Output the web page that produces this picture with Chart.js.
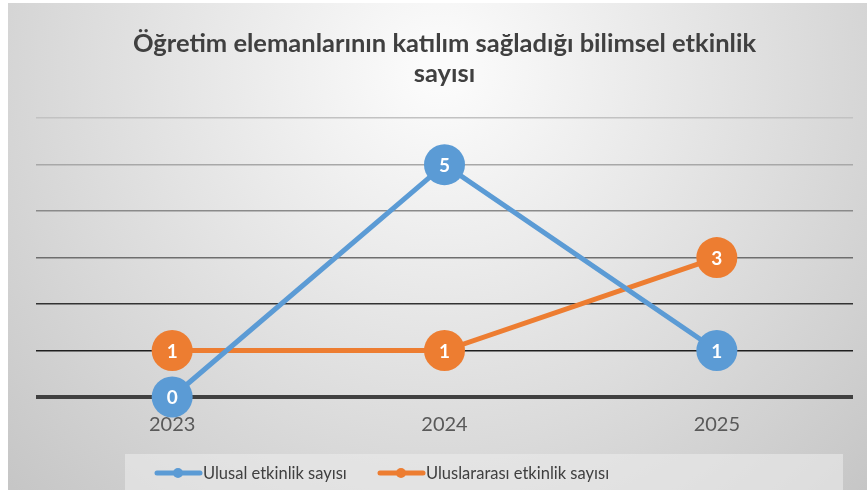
<!DOCTYPE html>
<html>
<head>
<meta charset="utf-8">
<script src="https://cdn.jsdelivr.net/npm/chart.js@4.4.0/dist/chart.umd.min.js"></script>
<style>
  html, body { margin: 0; padding: 0; background: #fff; }
  #wrap { width: 867px; height: 490px; }
</style>
</head>
<body>
<div id="wrap"><canvas id="myChart" width="867" height="490"></canvas></div>
<script>
const years = ['2023', '2024', '2025'];
const ulusal = [0, 5, 1];
const uluslararasi = [1, 1, 3];
const seriesNames = ['Ulusal etkinlik sayısı', 'Uluslararası etkinlik sayısı'];
const titleLines = ['Öğretim elemanlarının katılım sağladığı bilimsel etkinlik', 'sayısı'];

const blue = '#5B9BD5';
const orange = '#ED7D31';
const FONT = 'Lato, "Open Sans", sans-serif';

// gridline colours get darker toward the bottom, like the original
const gridColors = ['#404040', '#1f1f1f', '#333333', '#6e6e6e', '#8a8a8a', '#a8a8a8', '#c2c2c2'];

// background panel with a soft radial gradient
const bgPlugin = {
  id: 'bg',
  beforeDraw(chart) {
    const ctx = chart.ctx;
    ctx.save();
    ctx.fillStyle = '#ffffff';
    ctx.fillRect(0, 0, chart.width, chart.height);
    const g = ctx.createRadialGradient(440, 70, 20, 440, 70, 620);
    g.addColorStop(0, '#fbfbfb');
    g.addColorStop(1, '#c4c4c4');
    ctx.fillStyle = g;
    ctx.fillRect(8, 3, chart.width - 8, chart.height - 3);
    ctx.restore();
  }
};

// white numbers inside each marker
const labelPlugin = {
  id: 'pointLabels',
  afterDatasetsDraw(chart) {
    const ctx = chart.ctx;
    ctx.save();
    ctx.font = 'bold 19px ' + FONT;
    ctx.fillStyle = '#ffffff';
    ctx.textAlign = 'center';
    ctx.textBaseline = 'middle';
    chart.data.datasets.forEach((ds, i) => {
      chart.getDatasetMeta(i).data.forEach((pt, j) => {
        ctx.fillText(String(ds.data[j]), pt.x, pt.y + 1);
      });
    });
    ctx.restore();
  }
};

// legend box at the bottom with line + dot swatches
const legendPlugin = {
  id: 'bottomLegend',
  afterDraw(chart) {
    const ctx = chart.ctx;
    ctx.save();
    ctx.fillStyle = 'rgba(235,235,235,0.6)';
    ctx.fillRect(125, 454, 718, 36);
    ctx.font = '16.5px ' + FONT;
    ctx.textBaseline = 'middle';
    const starts = [157, 380];
    chart.data.datasets.forEach((ds, i) => {
      const x = starts[i], y = 473;
      ctx.strokeStyle = ds.borderColor;
      ctx.lineWidth = 5;
      ctx.lineCap = 'round';
      ctx.beginPath();
      ctx.moveTo(x, y);
      ctx.lineTo(x + 43, y);
      ctx.stroke();
      ctx.fillStyle = ds.borderColor;
      ctx.beginPath();
      ctx.arc(x + 21, y, 5, 0, Math.PI * 2);
      ctx.fill();
      ctx.fillStyle = '#404040';
      ctx.fillText(ds.label, x + 46, y + 1);
    });
    ctx.restore();
  }
};

const ctx = document.getElementById('myChart').getContext('2d');
const chart = new Chart(ctx, {
  type: 'line',
  data: {
    labels: years,
    datasets: [{
      label: seriesNames[0],
      data: ulusal,
      borderColor: blue,
      backgroundColor: blue,
      borderWidth: 5,
      pointRadius: 20.5,
      pointHoverRadius: 20.5,
      pointBorderWidth: 0
    }, {
      label: seriesNames[1],
      data: uluslararasi,
      borderColor: orange,
      backgroundColor: orange,
      borderWidth: 5,
      pointRadius: 20.5,
      pointHoverRadius: 20.5,
      pointBorderWidth: 0
    }]
  },
  options: {
    responsive: false,
    animation: false,
    clip: false,
    layout: { autoPadding: false, padding: { left: 36, right: 14, top: 0, bottom: 37 } },
    scales: {
      x: {
        offset: true,
        grid: { display: false, drawTicks: false },
        border: { display: false },
        ticks: { padding: 16, color: '#595959', font: { size: 20, family: FONT } }
      },
      y: {
        min: 0,
        max: 6,
        ticks: { display: false, stepSize: 1 },
        grid: {
          drawTicks: false,
          color: (c) => gridColors[c.tick ? c.tick.value : 0],
          lineWidth: (c) => (c.tick && c.tick.value === 0 ? 4 : 1.5)
        },
        border: { display: false }
      }
    },
    plugins: {
      legend: { display: false },
      tooltip: { enabled: false },
      title: {
        display: true,
        text: titleLines,
        color: '#404040',
        font: { size: 25.5, weight: 'bold', family: FONT, lineHeight: 1.2 },
        padding: { top: 28, bottom: 29 }
      }
    }
  },
  plugins: [bgPlugin, labelPlugin, legendPlugin]
});
</script>
</body>
</html>
